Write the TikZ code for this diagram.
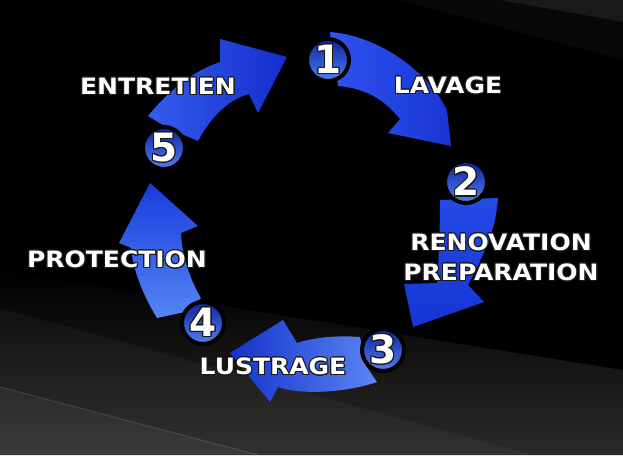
\documentclass[tikz,border=0pt]{standalone}
\usepackage{fontspec}
\setmainfont{DejaVu Sans}
\usepackage{graphicx}
\usepackage[copies]{contour}
\contourlength{1.1pt}
\contournumber{16}
\definecolor{outl}{HTML}{1A1A1A}
\definecolor{diskTop}{HTML}{0E22A0}
\definecolor{diskBot}{HTML}{4F80F2}
\definecolor{bgLow}{HTML}{2C2A28}
\newcommand{\lbltxt}[1]{\scalebox{1}[0.9]{\contour{outl}{#1}}}
\newcommand{\numtxt}[1]{\contour{outl}{#1}}
\tikzset{
  badge/.style={circle, minimum size=42pt, inner sep=0pt, draw=black, line width=4pt,
    top color=diskTop, bottom color=diskBot, text=white,
    font=\fontsize{39}{39}\selectfont\bfseries},
  lbl/.style={text=white, inner sep=0pt, align=center,
    font=\fontsize{25}{30}\selectfont\bfseries},
}
\begin{document}
\begin{tikzpicture}[x=1pt,y=-1pt]
\useasboundingbox (0,0) rectangle (623,455);
% background
\fill[black] (0,0) rectangle (623,455);
\shade[top color=black, bottom color=bgLow] (0,270) -- (623,370) -- (623,455) -- (0,455) -- cycle;
\fill[white, opacity=0.035] (0,308) -- (623,480) -- (0,480) -- cycle;
\fill[white, opacity=0.045] (0,387) -- (258,455) -- (0,455) -- cycle;
\draw[white, opacity=0.12, line width=1pt] (0,387) -- (258,455);
\fill[white, opacity=0.07] (500,0) -- (623,0) -- (623,22) -- cycle;
\fill[white, opacity=0.03] (400,0) -- (623,0) -- (623,60) -- cycle;
% arrows
\shade[left color={rgb,255:red,48;green,82;blue,240}, right color={rgb,255:red,24;green,54;blue,214}]
  (330,32) .. controls (380,36) and (428,72) .. (447,110) -- (451,146) -- (388,133) -- (400,119)
  .. controls (385,100) and (365,88) .. (338,86) -- cycle;
\shade[top color={rgb,255:red,36;green,74;blue,232}, bottom color={rgb,255:red,22;green,52;blue,212}]
  (440,200) .. controls (440,240) and (438,265) .. (437,283) -- (404,284) -- (413,327) -- (484,302) -- (468,285)
  .. controls (482,258) and (496,232) .. (498,198) -- cycle;
\shade[left color={rgb,255:red,20;green,50;blue,206}, right color={rgb,255:red,90;green,134;blue,242}]
  (360,337) .. controls (335,335) and (312,338) .. (297,343) -- (283,320) -- (230,353) -- (270,402) -- (278,387)
  .. controls (300,395) and (345,393) .. (377,382) -- (366,366) -- cycle;
\shade[top color={rgb,255:red,24;green,60;blue,222}, bottom color={rgb,255:red,84;green,134;blue,242}]
  (157,318) .. controls (143,295) and (133,270) .. (131,248) -- (119,243) -- (150,183) -- (198,226) -- (181,233)
  .. controls (182,255) and (190,280) .. (201,298) -- (185,312) -- cycle;
\shade[left color={rgb,255:red,52;green,92;blue,238}, right color={rgb,255:red,20;green,46;blue,204}]
  (148,116) .. controls (165,95) and (190,72) .. (220,62) -- (220,39) -- (287,57) -- (258,113) -- (249,94)
  .. controls (230,99) and (212,115) .. (198,141) -- (168,128) -- cycle;
% badges
\node[badge] (c1) at (328,60) {\numtxt{1}};
\node[badge] (c2) at (466,182) {\numtxt{2}};
\node[badge] (c3) at (383,350) {\numtxt{3}};
\node[badge] (c4) at (203,323) {\numtxt{4}};
\node[badge] (c5) at (164,148) {\numtxt{5}};
% labels
\node[lbl] (l1) at (448,86) {\lbltxt{LAVAGE}};
\node[lbl] (l2) at (501,258) {\lbltxt{RENOVATION}\\\lbltxt{PREPARATION}};
\node[lbl] (l3) at (273,367) {\lbltxt{LUSTRAGE}};
\node[lbl] (l4) at (117,260) {\lbltxt{PROTECTION}};
\node[lbl] (l5) at (158,87) {\lbltxt{ENTRETIEN}};
\end{tikzpicture}
\end{document}
